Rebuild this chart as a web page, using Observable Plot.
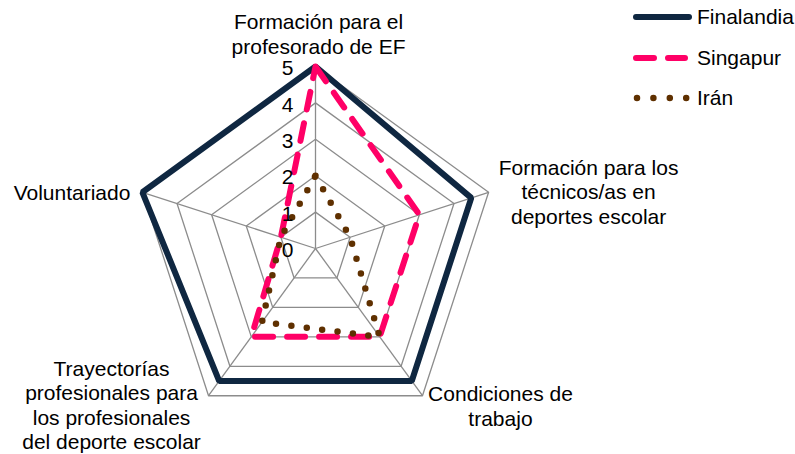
<!DOCTYPE html>
<html>
<head>
<meta charset="utf-8">
<script src="https://cdn.jsdelivr.net/npm/d3@7"></script>
<script src="https://cdn.jsdelivr.net/npm/@observablehq/plot@0.6"></script>
<style>
  body { margin: 0; background: #fff; }
  #wrap { position: relative; width: 795px; height: 454px; font-family: "Liberation Sans", Arial, sans-serif; }
  #legend { position: absolute; left: 630px; top: -3px; }
  .row { display: flex; align-items: center; height: 40.5px; font-size: 21px; color: #000; }
  .row svg { display: block; }
  .row span { margin-left: 3px; }
</style>
</head>
<body>
<div id="wrap"></div>
<script>
// ---- data ----
const categories = [
  "Formación para el\nprofesorado de EF",
  "Formación para los\ntécnicos/as en\ndeportes escolar",
  "Condiciones de\ntrabajo",
  "Trayectorías\nprofesionales para\nlos profesionales\ndel deporte escolar",
  "Voluntariado"
];
const series = ["Finalandia", "Singapur", "Irán"];
const finlandia = [5, 4.5, 4.5, 4.5, 5];
const singapur = [5, 3, 3, 3, 1];
const iran = [2, 1, 3, 2.5, 1];
const tickValues = [0, 1, 2, 3, 4, 5];
const colors = ["#0f2741", "#ff0066", "#5f3000"];

// ---- helpers ----
const n = categories.length;
const ang = i => (i * 2 * Math.PI) / n;
const px = (i, r) => r * Math.sin(ang(i));
const py = (i, r) => r * Math.cos(ang(i));
const maxR = d3.max(tickValues);

const values = [finlandia, singapur, iran];
const seriesPts = series.map((s, k) =>
  values[k].map((v, i) => ({ series: s, i, x: px(i, v), y: py(i, v) }))
);
const gridPts = tickValues.filter(t => t > 0).flatMap(t =>
  categories.map((c, i) => ({ level: t, x: px(i, t), y: py(i, t) }))
);
const spokes = categories.map((c, i) => ({ x2: px(i, maxR), y2: py(i, maxR) }));
const labelPts = categories.map((c, i) => ({ text: c, x: px(i, maxR), y: py(i, maxR) }));

const unit = 36.4, cx = 315, cy = 248, W = 795, H = 454;
const font = "Liberation Sans, Arial, sans-serif";
const fs = 21;

const textOpts = { fontSize: fs, fontFamily: font, fill: "#000", lineHeight: 1.17, lineAnchor: "middle" };

const chart = Plot.plot({
  width: W, height: H,
  margin: 0,
  x: { domain: [-cx / unit, (W - cx) / unit], range: [0, W], axis: null },
  y: { domain: [-(H - cy) / unit, cy / unit], range: [H, 0], axis: null },
  style: { fontFamily: font, background: "#fff" },
  marks: [
    Plot.line(gridPts, { x: "x", y: "y", z: "level", curve: "linear-closed", stroke: "#8c8c8c", strokeWidth: 1.3 }),
    Plot.link(spokes, { x1: 0, y1: 0, x2: "x2", y2: "y2", stroke: "#8c8c8c", strokeWidth: 1.3 }),
    Plot.line(seriesPts[0], { x: "x", y: "y", curve: "linear-closed", stroke: colors[0], strokeWidth: 6, strokeLinejoin: "miter" }),
    Plot.line(seriesPts[1], { x: "x", y: "y", curve: "linear-closed", stroke: colors[1], strokeWidth: 6, strokeDasharray: "18 14", strokeLinecap: "round", strokeLinejoin: "round" }),
    Plot.line(seriesPts[2], { x: "x", y: "y", curve: "linear-closed", stroke: colors[2], strokeWidth: 6.5, strokeDasharray: "0 15.5", strokeLinecap: "round", strokeLinejoin: "round" }),
    Plot.text(tickValues, { x: 0, y: d => d, text: d => String(d), textAnchor: "end", dx: -22, dy: 2, fontSize: fs, fontFamily: font, fill: "#000" }),
    Plot.text([labelPts[0]], { x: "x", y: "y", text: "text", textAnchor: "middle", dx: 3, dy: -33, ...textOpts }),
    Plot.text([labelPts[1]], { x: "x", y: "y", text: "text", textAnchor: "middle", dx: 100, dy: -1, ...textOpts }),
    Plot.text([labelPts[2]], { x: "x", y: "y", text: "text", textAnchor: "middle", dx: 78, dy: 10, ...textOpts }),
    Plot.text([labelPts[3]], { x: "x", y: "y", text: "text", textAnchor: "middle", dx: -97, dy: 9, ...textOpts }),
    Plot.text([labelPts[4]], { x: "x", y: "y", text: "text", textAnchor: "end", dx: -12, dy: 0, ...textOpts })
  ]
});

const wrap = document.getElementById("wrap");
wrap.appendChild(chart);

// ---- legend ----
const legend = document.createElement("div");
legend.id = "legend";
const swatchStyles = [
  { w: 6, dash: null, cap: "round", x1: 6, x2: 59 },
  { w: 6, dash: "18 14", cap: "round", x1: 6, x2: 55 },
  { w: 6.5, dash: "0 16.4", cap: "round", x1: 7, x2: 57 }
];
series.forEach((s, k) => {
  const row = document.createElement("div");
  row.className = "row";
  const st = swatchStyles[k];
  const svg = d3.create("svg").attr("width", 64).attr("height", 12);
  svg.append("line").attr("x1", st.x1).attr("x2", st.x2).attr("y1", 6).attr("y2", 6)
    .attr("stroke", colors[k]).attr("stroke-width", st.w).attr("stroke-linecap", st.cap)
    .attr("stroke-dasharray", st.dash);
  row.appendChild(svg.node());
  const sp = document.createElement("span");
  sp.textContent = s;
  row.appendChild(sp);
  legend.appendChild(row);
});
wrap.appendChild(legend);
</script>
</body>
</html>
